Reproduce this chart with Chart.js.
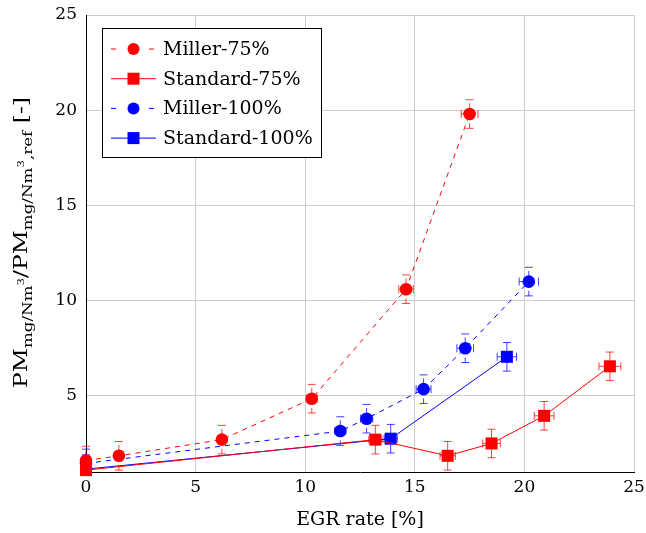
<!DOCTYPE html>
<html>
<head>
<meta charset="utf-8">
<script src="https://cdn.jsdelivr.net/npm/chart.js@4.4.1/dist/chart.umd.min.js"></script>
<style>
    html, body { margin: 0; padding: 0; background: #fff; }
    canvas { display: block; }
</style>
</head>
<body>
<canvas id="chart" width="646" height="533"></canvas>
<script>
// ---------------------------------------------------------------------------
// Data
// ---------------------------------------------------------------------------

const xTicks = [0, 5, 10, 15, 20, 25];
const yTicks = [5, 10, 15, 20, 25];

const miller75X    = [0, 1.5, 6.2, 10.3, 14.6, 17.5];
const miller75Y    = [1.6, 1.85, 2.7, 4.85, 10.6, 19.8];
const miller75XErr = [0, 0.05, 0.15, 0.25, 0.33, 0.38];
const miller75YErr = [0.75, 0.75, 0.75, 0.75, 0.75, 0.75];

const standard75X    = [0, 13.2, 16.5, 18.5, 20.9, 23.9];
const standard75Y    = [1.1, 2.7, 1.85, 2.5, 3.95, 6.55];
const standard75XErr = [0, 0.3, 0.35, 0.4, 0.45, 0.5];
const standard75YErr = [0.75, 0.75, 0.75, 0.75, 0.75, 0.75];

const miller100X    = [0, 11.6, 12.8, 15.4, 17.3, 20.2];
const miller100Y    = [1.45, 3.15, 3.8, 5.35, 7.5, 11.0];
const miller100XErr = [0, 0.25, 0.28, 0.34, 0.38, 0.44];
const miller100YErr = [0.75, 0.75, 0.75, 0.75, 0.75, 0.75];

const standard100X    = [0, 13.9, 19.2];
const standard100Y    = [1.15, 2.75, 7.05];
const standard100XErr = [0, 0.3, 0.44];
const standard100YErr = [0.75, 0.75, 0.75];

const RED  = '#ff0000';
const BLUE = '#0000ff';
const SERIF = '"DejaVu Serif", "Liberation Serif", serif';

function points(xs, ys) {
    return xs.map((x, i) => ({ x, y: ys[i] }));
}

function series(label, xs, ys, xErr, yErr, color, dashed, style) {
    return {
        label,
        data: points(xs, ys),
        xErr,
        yErr,
        showLine: true,
        borderColor: color,
        backgroundColor: color,
        borderWidth: 1,
        borderDash: dashed ? [5, 5] : [],
        pointStyle: style,
        pointRadius: style === 'rect' ? 8.5 : 6.3,
        pointHoverRadius: style === 'rect' ? 8.5 : 6.3,
        pointBorderWidth: 0,
        tension: 0,
        clip: false,
    };
}

// ---------------------------------------------------------------------------
// Plugins: error bars, legend box, y axis title with sub/superscripts
// ---------------------------------------------------------------------------

const errorBars = {
    id: 'errorBars',
    beforeDatasetsDraw(chart) {
        const { ctx, chartArea } = chart;
        const xs = chart.scales.x;
        const ys = chart.scales.y;
        ctx.save();
        ctx.beginPath();
        ctx.rect(chartArea.left - 10, chartArea.top, chartArea.right - chartArea.left + 20,
                 chartArea.bottom - chartArea.top);
        ctx.clip();
        chart.data.datasets.forEach(ds => {
            const col = ds.borderColor === RED ? 'rgba(255,0,0,0.75)' : 'rgba(0,0,255,0.75)';
            ctx.strokeStyle = col;
            ctx.lineWidth = 1;
            ds.data.forEach((p, i) => {
                const px = xs.getPixelForValue(p.x);
                const py = ys.getPixelForValue(p.y);
                const yl = ys.getPixelForValue(p.y - ds.yErr[i]);
                const yh = ys.getPixelForValue(p.y + ds.yErr[i]);
                const xl = xs.getPixelForValue(p.x - ds.xErr[i]);
                const xh = xs.getPixelForValue(p.x + ds.xErr[i]);
                // bars
                ctx.setLineDash(ds.borderDash);
                ctx.beginPath();
                ctx.moveTo(px, yl); ctx.lineTo(px, yh);
                if (ds.xErr[i] > 0) { ctx.moveTo(xl, py); ctx.lineTo(xh, py); }
                ctx.stroke();
                // caps
                ctx.setLineDash([]);
                ctx.beginPath();
                ctx.moveTo(px - 4, yl); ctx.lineTo(px + 4, yl);
                ctx.moveTo(px - 4, yh); ctx.lineTo(px + 4, yh);
                if (ds.xErr[i] > 0) {
                    ctx.moveTo(xl, py - 4); ctx.lineTo(xl, py + 4);
                    ctx.moveTo(xh, py - 4); ctx.lineTo(xh, py + 4);
                }
                ctx.stroke();
            });
        });
        ctx.restore();
    },
};

const boxLegend = {
    id: 'boxLegend',
    afterDraw(chart) {
        const { ctx } = chart;
        const left = 102.5, top = 28.5, w = 219, h = 129;
        ctx.save();
        ctx.fillStyle = '#fff';
        ctx.fillRect(left, top, w, h);
        ctx.strokeStyle = '#000';
        ctx.lineWidth = 1;
        ctx.strokeRect(left, top, w, h);

        chart.data.datasets.forEach((ds, i) => {
            const y = 49 + i * 29.7;
            ctx.strokeStyle = ds.borderColor;
            ctx.setLineDash(ds.borderDash);
            ctx.beginPath();
            if (ds.borderDash.length) {
                ctx.moveTo(111, y); ctx.lineTo(118, y);
                ctx.moveTo(149, y); ctx.lineTo(156, y);
            } else {
                ctx.moveTo(111, y); ctx.lineTo(156, y);
            }
            ctx.stroke();
            ctx.setLineDash([]);
            ctx.fillStyle = ds.backgroundColor;
            if (ds.pointStyle === 'rect') {
                ctx.fillRect(133.5 - 6, y - 6, 12, 12);
            } else {
                ctx.beginPath();
                ctx.arc(133.5, y, 6, 0, Math.PI * 2);
                ctx.fill();
            }
            ctx.fillStyle = '#000';
            ctx.font = `19px ${SERIF}`;
            ctx.textBaseline = 'middle';
            ctx.fillText(ds.label, 163, y + 1);
        });
        ctx.restore();
    },
};

const yTitle = {
    id: 'yTitle',
    afterDraw(chart) {
        const { ctx } = chart;
        const main = 19, sub = 13.5, sup = 9.5;
        const pieces = [
            ['PM', main, 0], ['mg/Nm', sub, 5], ['3', sup, -3],
            ['/PM', main, 0], ['mg/Nm', sub, 5], ['3', sup, -3], [',ref', sub, 5],
            [' [-]', main, 0],
        ];
        ctx.save();
        let total = 0;
        pieces.forEach(p => {
            ctx.font = `${p[1]}px ${SERIF}`;
            p.push(ctx.measureText(p[0]).width);
            total += p[3];
        });
        const span = 291;
        const k = span / total;
        ctx.translate(0, 388);
        ctx.rotate(-Math.PI / 2);
        ctx.scale(k, 1);
        ctx.fillStyle = '#000';
        ctx.textBaseline = 'alphabetic';
        let pos = 0;
        pieces.forEach(p => {
            ctx.font = `${p[1]}px ${SERIF}`;
            ctx.fillText(p[0], pos, 27 + p[2]);
            pos += p[3];
        });
        ctx.restore();
    },
};

// ---------------------------------------------------------------------------
// Chart
// ---------------------------------------------------------------------------

new Chart(document.getElementById('chart'), {
    type: 'scatter',
    data: {
        datasets: [
            series('Miller-75%', miller75X, miller75Y, miller75XErr, miller75YErr, RED, true, 'circle'),
            series('Standard-75%', standard75X, standard75Y, standard75XErr, standard75YErr, RED, false, 'rect'),
            series('Miller-100%', miller100X, miller100Y, miller100XErr, miller100YErr, BLUE, true, 'circle'),
            series('Standard-100%', standard100X, standard100Y, standard100XErr, standard100YErr, BLUE, false, 'rect'),
        ],
    },
    options: {
        responsive: false,
        animation: false,
        devicePixelRatio: 1,
        layout: { padding: { top: 15, right: 12, left: 0, bottom: 0 } },
        plugins: {
            legend: { display: false },
            tooltip: { enabled: false },
        },
        scales: {
            x: {
                type: 'linear',
                min: 0,
                max: 25,
                afterBuildTicks: s => { s.ticks = xTicks.map(v => ({ value: v })); },
                afterFit: s => {
                    s.height = 61;
                    s.paddingLeft = 0;
                    s.paddingRight = 0;
                },
                grid: { color: '#cccccc', drawTicks: false },
                border: { color: '#000', width: 1 },
                ticks: {
                    padding: 5,
                    color: '#000',
                    font: { family: SERIF, size: 17 },
                    maxRotation: 0,
                },
                title: {
                    display: true,
                    text: 'EGR rate [%]',
                    color: '#000',
                    font: { family: SERIF, size: 19 },
                    padding: { top: 0, bottom: 2 },
                },
            },
            y: {
                type: 'linear',
                min: 1,
                max: 25,
                afterBuildTicks: s => { s.ticks = yTicks.map(v => ({ value: v })); },
                afterFit: s => {
                    s.width = 86;
                    s.paddingTop = 0;
                    s.paddingBottom = 0;
                },
                grid: { color: '#cccccc', drawTicks: false },
                border: { color: '#000', width: 1 },
                ticks: {
                    padding: 9,
                    color: '#000',
                    font: { family: SERIF, size: 17 },
                },
            },
        },
    },
    plugins: [errorBars, boxLegend, yTitle],
});
</script>
</body>
</html>
